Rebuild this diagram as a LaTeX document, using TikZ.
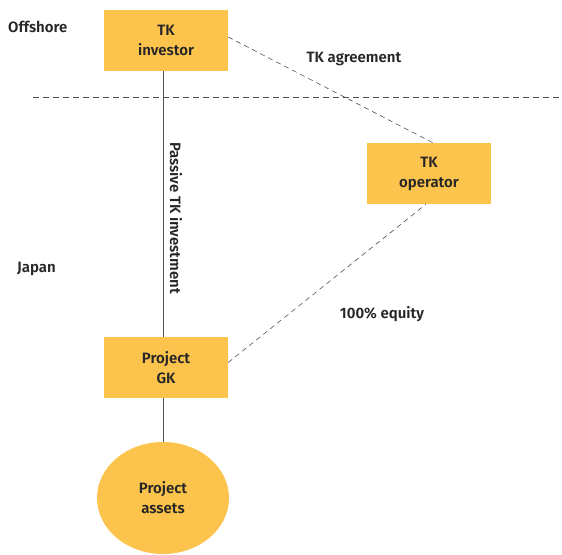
\documentclass[tikz,border=0pt]{standalone}
\usepackage{fontspec}
\setmainfont{Fira Sans}[BoldFont={* SemiBold}]
\usetikzlibrary{shapes.geometric}
\definecolor{tkyellow}{HTML}{FCC44C}
\definecolor{tktext}{HTML}{262626}
\definecolor{tkline}{HTML}{505050}
\begin{document}
\begin{tikzpicture}[x=1pt, y=-1pt,
		every node/.style={text=tktext, font=\fontsize{15}{20}\selectfont\bfseries, inner sep=0},
		entity/.style={fill=tkyellow, minimum width=124pt, minimum height=61pt, align=center},
		asset/.style={ellipse, fill=tkyellow, minimum width=132pt, minimum height=112pt, align=center},
		link/.style={draw=tkline, line width=0.8pt},
		deal/.style={draw=tkline, line width=0.6pt, dash pattern=on 5pt off 4pt},
	]
	\useasboundingbox (0,0) rectangle (562,554);
	\node[entity] (investor) at (166,40.5) {TK\\investor};
	\node[entity] (operator) at (429,173.5) {TK\\operator};
	\node[entity] (gk) at (166,367.5) {Project\\GK};
	\node[asset] (assets) at (163,498) {Project\\assets};
	% border line
	\coordinate (bl) at (33,97);
	\coordinate (br) at (562,97);
	\draw[deal, line width=0.8pt, dash pattern=on 6pt off 4pt] (bl) -- (br);
	\node[anchor=west] (offshore) at (8,27) {Offshore};
	\node[anchor=west] (japan) at (17,269) {Japan};
	% links
	\draw[link] ([xshift=-3pt]investor.south) -- ([xshift=-3pt]gk.north);
	\draw[link] ([xshift=-3pt]gk.south) -- (assets.north);
	\draw[deal] ([yshift=3.5pt]investor.east) -- ([xshift=4pt]operator.north);
	\draw[deal] ([yshift=5pt]gk.east) -- ([xshift=-3pt]operator.south);
	\node (agree) at (354,59) {TK agreement};
	\node (equity) at (382,314) {100\% equity};
	\node[rotate=-90] (passive) at (176,218) {Passive TK investment};
\end{tikzpicture}
\end{document}
